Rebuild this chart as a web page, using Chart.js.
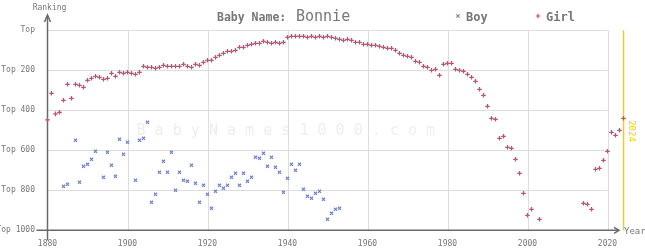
<!DOCTYPE html>
<html><head><meta charset="utf-8">
<script src="https://cdn.jsdelivr.net/npm/chart.js@4/dist/chart.umd.min.js"></script>
<style>html,body{margin:0;padding:0;background:#fff}#wrap{width:645px;height:250px;position:relative}</style>
</head><body><div id="wrap"><canvas id="c"></canvas></div>
<script>
const nameTitle = "Bonnie";
const xTicks = [1880, 1900, 1920, 1940, 1960, 1980, 2000, 2020];
const yTicks = [0, 200, 400, 600, 800, 1000];
const yTickLabels = ["Top", "Top 200", "Top 400", "Top 600", "Top 800", "Top 1000"];
const markYear = 2024;

const girlYears = [1880,1881,1882,1883,1884,1885,1886,1887,1888,1889,1890,1891,1892,1893,1894,1895,1896,1897,1898,1899,
1900,1901,1902,1903,1904,1905,1906,1907,1908,1909,1910,1911,1912,1913,1914,1915,1916,1917,1918,1919,
1920,1921,1922,1923,1924,1925,1926,1927,1928,1929,1930,1931,1932,1933,1934,1935,1936,1937,1938,1939,
1940,1941,1942,1943,1944,1945,1946,1947,1948,1949,1950,1951,1952,1953,1954,1955,1956,1957,1958,1959,
1960,1961,1962,1963,1964,1965,1966,1967,1968,1969,1970,1971,1972,1973,1974,1975,1976,1977,1978,1979,
1980,1981,1982,1983,1984,1985,1986,1987,1988,1989,1990,1991,1992,1993,1994,1995,1996,1997,1998,1999,
2000,2001,2003,2014,2015,2016,2017,2018,2019,2020,2021,2022,2023,2024];
const girlRanks = [448,315,418,410,350,270,340,270,275,285,250,240,230,235,245,240,215,230,210,215,
210,215,220,210,180,185,185,190,185,175,180,180,180,180,170,180,185,170,175,160,
150,150,135,125,115,105,105,100,85,85,75,70,65,65,55,60,65,60,65,60,
35,30,30,30,30,35,30,35,30,35,30,35,40,45,50,45,50,60,60,70,
70,75,75,80,85,90,90,100,115,125,130,135,155,160,180,185,200,195,225,170,
165,165,195,200,205,220,235,255,295,325,380,440,445,540,530,585,590,645,715,815,
925,895,945,865,870,895,695,690,650,605,510,525,500,440];

const boyYears = [1884,1885,1887,1888,1889,1890,1891,1892,1894,1895,1896,1897,1898,1899,1900,1902,1903,1904,1905,
1906,1907,1908,1909,1910,1911,1912,1913,1914,1915,1916,1917,1918,1919,1920,1921,1922,1923,1924,1925,
1926,1927,1928,1929,1930,1931,1932,1933,1934,1935,1936,1937,1938,1939,1940,1941,1942,1943,1944,1945,
1946,1947,1948,1949,1950,1951,1952,1953];
const boyRanks = [780,770,550,760,680,670,645,605,735,610,675,730,545,620,560,750,550,540,460,
860,820,710,655,710,610,800,710,750,755,675,765,860,775,820,890,805,775,790,775,
735,715,775,715,755,735,635,640,615,680,635,685,710,810,740,670,700,670,795,830,
840,815,805,845,945,915,895,890];

const GIRL = '#c05078';
const BOY = '#7084c4';
const TXT = '#777777';

const toPts = (xs, ys) => xs.map((x, i) => ({x: x, y: ys[i]}));

const deco = {
  id: 'deco',
  beforeDatasetsDraw(chart) {
    const ctx = chart.ctx, xs = chart.scales.x, ys = chart.scales.y;
    const X = v => xs.getPixelForValue(v), Y = v => ys.getPixelForValue(v);
    ctx.save();
    // watermark
    ctx.fillStyle = '#eeeeee';
    ctx.font = '15px "DejaVu Sans Mono"';
    ctx.textAlign = 'center'; ctx.textBaseline = 'middle';
    const wm = 'BabyNames1000.com';
    for (let i = 0; i < wm.length; i++) ctx.fillText(wm[i], 141 + i * 18.1, 131);
    // grid
    ctx.strokeStyle = '#dddddd'; ctx.lineWidth = 1;
    const xl = X(xTicks[0]), xr = X(xTicks[xTicks.length - 1]);
    yTicks.slice(0, -1).forEach(v => {
      const y = Math.round(Y(v)) + 0.5;
      ctx.beginPath(); ctx.moveTo(xl, y); ctx.lineTo(xr, y); ctx.stroke();
    });
    xTicks.slice(1).forEach(v => {
      const x = Math.round(X(v)) + 0.5;
      ctx.beginPath(); ctx.moveTo(x, Y(0)); ctx.lineTo(x, Y(1000)); ctx.stroke();
    });
    // 2024 marker line
    ctx.strokeStyle = '#f2d200'; ctx.lineWidth = 1.5;
    const xm = X(markYear);
    ctx.beginPath(); ctx.moveTo(xm, Y(0)); ctx.lineTo(xm, Y(1000)); ctx.stroke();
    ctx.save();
    ctx.translate(xm + 8, 131);
    ctx.rotate(Math.PI / 2);
    ctx.fillStyle = '#f2d200';
    ctx.font = '9px "DejaVu Sans Mono"';
    ctx.textAlign = 'center'; ctx.textBaseline = 'middle';
    ctx.fillText(String(markYear), 0, 0);
    ctx.restore();
    // axes
    ctx.strokeStyle = '#6a6a6a'; ctx.lineWidth = 1.5;
    const ax = X(xTicks[0]), ay = Y(1000);
    ctx.beginPath(); ctx.moveTo(ax, ay + 10); ctx.lineTo(ax, 16); ctx.stroke();
    ctx.beginPath(); ctx.moveTo(ax - 3, 22); ctx.lineTo(ax, 15); ctx.lineTo(ax + 3, 22); ctx.stroke();
    ctx.beginPath(); ctx.moveTo(ax - 11, ay); ctx.lineTo(619, ay); ctx.stroke();
    ctx.beginPath(); ctx.moveTo(614, ay - 3); ctx.lineTo(619, ay); ctx.lineTo(614, ay + 3); ctx.stroke();
    // labels
    ctx.fillStyle = TXT;
    ctx.font = '8px "DejaVu Sans Mono"';
    ctx.textAlign = 'right'; ctx.textBaseline = 'middle';
    yTicks.forEach((v, i) => ctx.fillText(yTickLabels[i], 35, Y(v)));
    ctx.textAlign = 'center';
    xTicks.forEach(v => ctx.fillText(String(v), X(v), 244));
    ctx.fillText('Ranking', ax + 2, 8);
    ctx.textAlign = 'left';
    ctx.font = '9px "DejaVu Sans Mono"';
    ctx.fillText('Year', 624, ay + 1);
    ctx.restore();
  },
  afterDraw(chart) {
    const ctx = chart.ctx;
    ctx.save();
    ctx.fillStyle = TXT;
    ctx.textBaseline = 'alphabetic'; ctx.textAlign = 'left';
    ctx.font = 'bold 11.5px "DejaVu Sans Mono"';
    ctx.fillText('Baby Name:', 217, 21);
    ctx.font = '15px "DejaVu Sans Mono"';
    ctx.fillText(nameTitle, 296, 21);
    // legend
    const items = chart.data.datasets;
    const lx = [458, 538];
    ctx.font = 'bold 12px "DejaVu Sans Mono"';
    items.forEach((d, i) => {
      ctx.strokeStyle = d.borderColor; ctx.lineWidth = 1.2;
      const cx = lx[i], cy = 16;
      ctx.beginPath();
      if (d.pointStyle === 'crossRot') {
        ctx.moveTo(cx - 1.6, cy - 1.6); ctx.lineTo(cx + 1.6, cy + 1.6);
        ctx.moveTo(cx + 1.6, cy - 1.6); ctx.lineTo(cx - 1.6, cy + 1.6);
      } else {
        ctx.moveTo(cx - 2.2, cy); ctx.lineTo(cx + 2.2, cy);
        ctx.moveTo(cx, cy - 2.2); ctx.lineTo(cx, cy + 2.2);
      }
      ctx.stroke();
      ctx.fillText(d.label, cx + 8, 21);
    });
    ctx.restore();
  }
};

new Chart(document.getElementById('c'), {
  type: 'scatter',
  data: {
    datasets: [
      {label: 'Boy', data: toPts(boyYears, boyRanks), pointStyle: 'crossRot', radius: 2.2, borderColor: BOY, backgroundColor: BOY, borderWidth: 1.2, clip: false},
      {label: 'Girl', data: toPts(girlYears, girlRanks), pointStyle: 'cross', radius: 2.3, borderColor: GIRL, backgroundColor: GIRL, borderWidth: 1.3, clip: false}
    ]
  },
  options: {
    responsive: true, maintainAspectRatio: false, animation: false,
    devicePixelRatio: 1,
    layout: {padding: {left: 47.5, right: 21.5, top: 30.3, bottom: 19.7}},
    plugins: {legend: {display: false}, tooltip: {enabled: false}, title: {display: false}},
    scales: {
      x: {type: 'linear', min: 1880, max: 2024, display: false},
      y: {type: 'linear', min: 0, max: 1000, reverse: true, display: false}
    }
  },
  plugins: [deco]
});
</script></body></html>
